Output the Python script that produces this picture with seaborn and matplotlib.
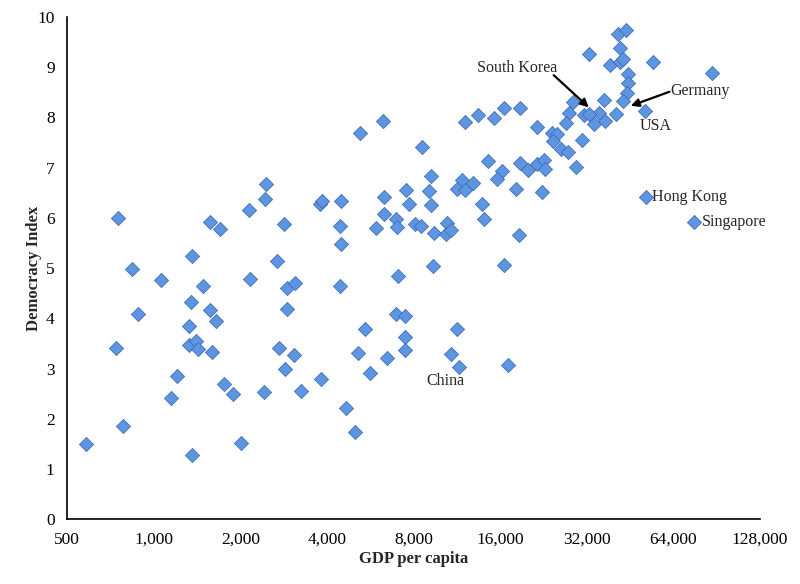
import numpy as np
import pandas as pd
import matplotlib
matplotlib.use("Agg")
import matplotlib.pyplot as plt
import matplotlib.ticker as mticker
import seaborn as sns

# GDP per capita (USD) and Democracy Index
gdp = [580, 740, 783, 883, 1062, 1351, 1329, 1329, 1405, 1428,
       1150, 1207, 1361, 1487, 1573, 1651, 1598, 1759, 1891, 2016,
       2424, 2734, 2868, 2914, 3107, 2914, 3083, 3261, 3827, 4422,
       4640, 4987, 5109, 5403, 5622, 6444, 6925, 7444, 7444, 7444,
       752, 842, 1361, 1573, 1704, 2149, 2167, 2463, 2443, 2691,
       2846, 3767, 3858, 4457, 4422, 4457, 5190, 6241, 6291, 6291,
       5902, 6925, 6980, 7037, 7506, 7686, 8066, 8460, 8528, 12040,
       13360, 15190, 16460, 18700, 21430, 24170, 25160, 24370, 28600, 27700,
       27200, 31240, 30700, 25980, 27500, 29300, 14470, 16190, 15560, 18700,
       19950, 21500, 22680, 22850, 18120, 22320, 9170, 9030, 9170, 11750,
       11290, 12040, 12830, 13790, 14080, 18560, 9390, 10420, 10340, 10760,
       9316, 16460, 11290, 10760, 11470, 16990, 41000, 43740, 41700, 32500,
       38480, 41700, 42700, 54300, 87100, 44450, 44450, 44100, 42700, 36680,
       50950, 40370, 35240, 36970, 33850, 32500, 51350, 75400]
democracy = [1.50, 3.41, 1.85, 4.08, 4.77, 4.32, 3.84, 3.47, 3.55, 3.39,
             2.41, 2.85, 1.27, 4.65, 4.16, 3.94, 3.33, 2.69, 2.49, 1.51,
             2.53, 3.41, 2.99, 4.60, 4.70, 4.18, 3.27, 2.55, 2.79, 4.64,
             2.21, 1.73, 3.31, 3.78, 2.91, 3.21, 4.08, 4.04, 3.63, 3.37,
             6.00, 4.98, 5.24, 5.92, 5.78, 6.16, 4.78, 6.67, 6.37, 5.14,
             5.88, 6.27, 6.34, 6.34, 5.84, 5.48, 7.69, 7.93, 6.41, 6.07,
             5.80, 5.97, 5.82, 4.84, 6.55, 6.27, 5.88, 5.84, 7.41, 7.91,
             8.05, 7.99, 8.19, 8.19, 7.81, 7.69, 7.67, 7.53, 8.31, 8.09,
             7.89, 8.05, 7.55, 7.37, 7.31, 7.01, 7.13, 6.93, 6.77, 7.09,
             6.95, 7.07, 7.15, 6.97, 6.57, 6.51, 6.83, 6.53, 6.25, 6.75,
             6.57, 6.55, 6.69, 6.27, 5.98, 5.66, 5.70, 5.90, 5.68, 5.76,
             5.04, 5.06, 3.78, 3.29, 3.03, 3.07, 9.66, 9.74, 9.38, 9.26,
             9.04, 9.10, 9.16, 9.10, 8.88, 8.86, 8.69, 8.49, 8.33, 8.35,
             8.13, 8.07, 8.09, 7.93, 7.87, 8.07, 6.41, 5.92]

xticks = [500, 1000, 2000, 4000, 8000, 16000, 32000, 64000, 128000]

df = pd.DataFrame({"gdp": gdp, "democracy": democracy})

sns.set_style("white")
plt.rcParams['font.family'] = ['Liberation Serif', 'DejaVu Serif']

fig = plt.figure(figsize=(8, 5.84), dpi=100)
ax = fig.add_axes([0.084, 0.111, 0.866, 0.86])

sns.scatterplot(data=df, x="gdp", y="democracy", marker="D", s=52,
                color="#5e95e1", edgecolor="#3f70b8", linewidth=0.6, ax=ax)

ax.set_xscale("log", base=2)
ax.set_xlim(500, 128000)
ax.set_ylim(0, 10)
ax.set_xticks(xticks)
ax.xaxis.set_major_formatter(mticker.FuncFormatter(lambda v, p: f"{int(round(v)):,}"))
ax.xaxis.set_minor_locator(mticker.NullLocator())
ax.set_yticks(range(0, 11))

for side in ["top", "right"]:
    ax.spines[side].set_visible(False)
for side in ["left", "bottom"]:
    ax.spines[side].set_color("black")
    ax.spines[side].set_linewidth(1.2)

ax.tick_params(axis="x", direction="inout", length=6, width=1, labelsize=12.5, pad=6, colors="black")
ax.tick_params(axis="y", direction="out", length=5, width=1, labelsize=12.5, pad=4, colors="black")

ax.set_xlabel("GDP per capita", fontsize=12, fontweight="bold")
ax.set_ylabel("Democracy Index", fontsize=12, fontweight="bold")
ax.xaxis.set_label_coords(0.5, -0.064)
ax.yaxis.set_label_coords(-0.037, 0.5)

# country labels and arrows
arrow = dict(arrowstyle="-|>", color="black", lw=1.6, shrinkA=0, shrinkB=0,
             mutation_scale=12)
ax.text(18300, 8.98, "South Korea", fontsize=11.5, ha="center", va="center")
ax.annotate("", xy=(32500, 8.2), xytext=(24560, 8.84), arrowprops=arrow)
ax.text(62500, 8.53, "Germany", fontsize=11.5, ha="left", va="center")
ax.annotate("", xy=(45500, 8.23), xytext=(62000, 8.51), arrowprops=arrow)
ax.text(55600, 7.83, "USA", fontsize=11.5, ha="center", va="center")
ax.text(54000, 6.41, "Hong Kong", fontsize=11.5, ha="left", va="center")
ax.text(80500, 5.92, "Singapore", fontsize=11.5, ha="left", va="center")
ax.text(10340, 2.75, "China", fontsize=11.5, ha="center", va="center")

fig.savefig("out.png", dpi=100, facecolor="white")
